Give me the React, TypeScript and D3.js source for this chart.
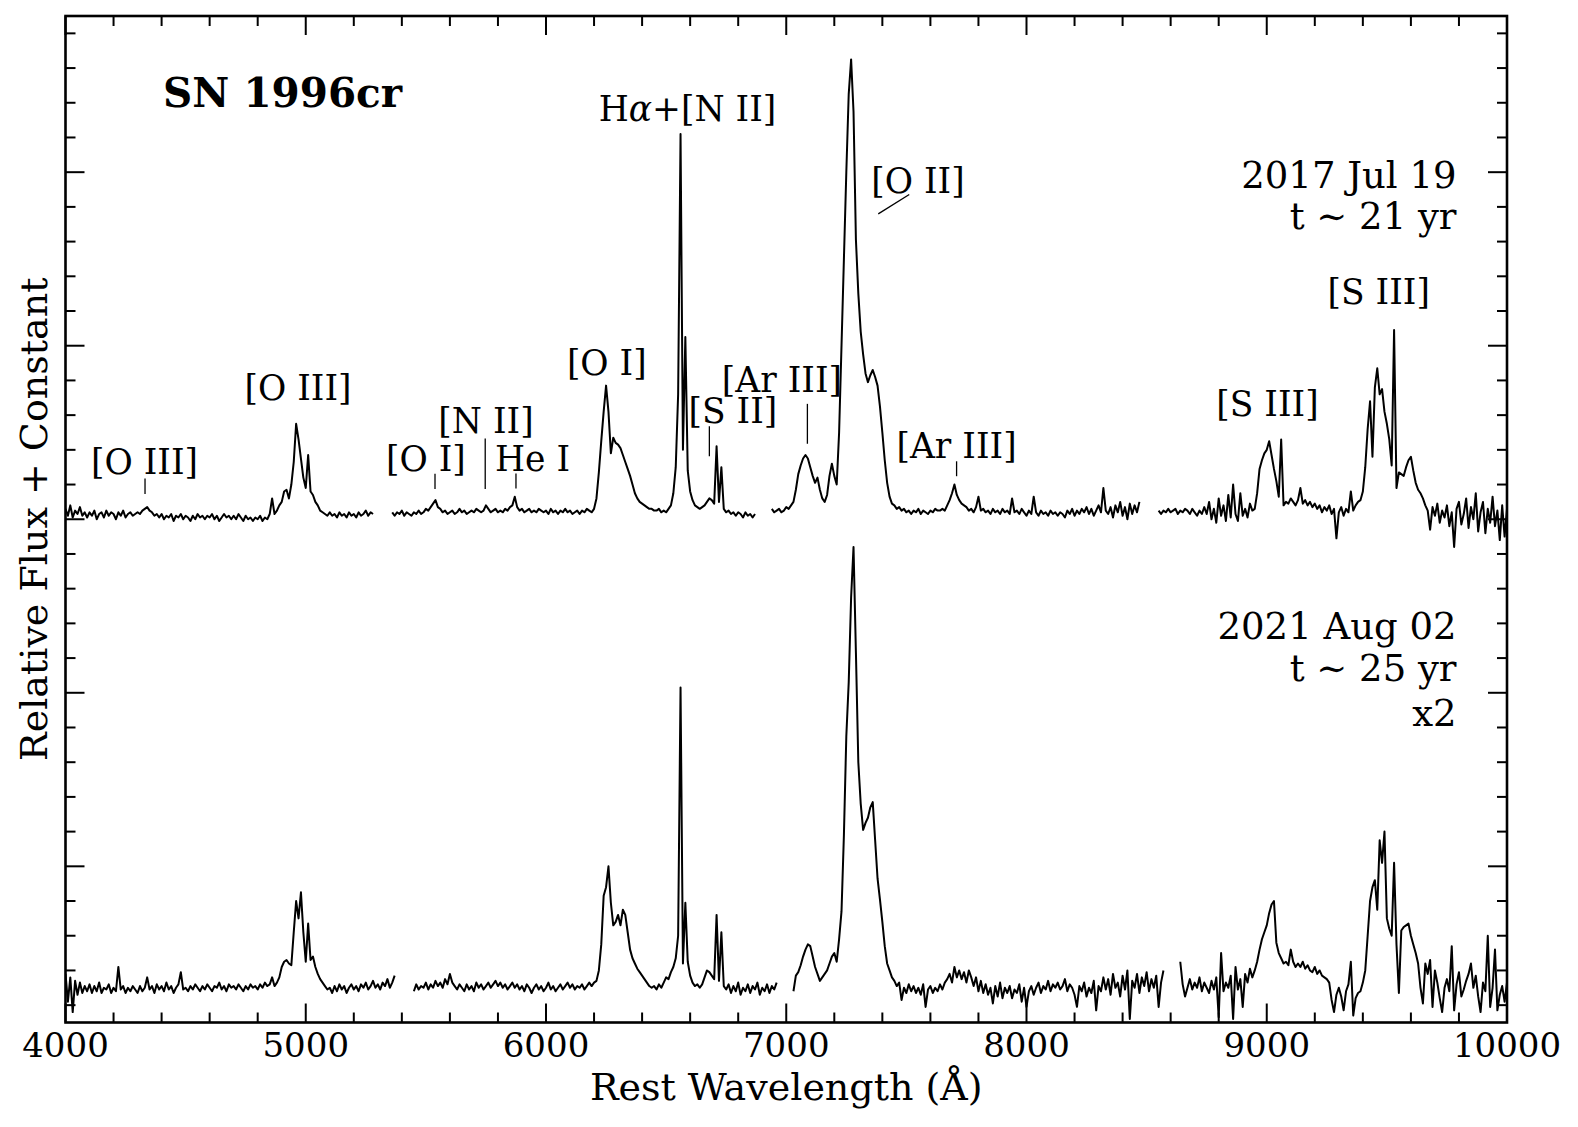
import React from "react";
import * as d3 from "d3";

const W = 1578;
const H = 1127;
const PLOT = { left: 65.5, right: 1507, top: 16, bottom: 1022.5 };
const X_DOMAIN: [number, number] = [4000, 10000];
const Y_DOMAIN: [number, number] = [0.1, 5.9];
const STEP = 10;

const xMajorTicks = [4000, 5000, 6000, 7000, 8000, 9000, 10000];
const yMajorTicks = [1, 2, 3, 4, 5];

// ---------- 2017 Jul 19 spectrum (flux + constant), 10 Å sampling ----------
const spec2017Starts = [4000, 5360, 6940, 8550];
const spec2017A = [
  3.06, 3.02, 3.08, 3.01, 3.05, 3.03, 3.07, 3.02, 3.04, 3.01,
  3.04, 3.02, 3.05, 3.00, 3.03, 3.04, 3.01, 3.05, 3.02, 3.04,
  3.03, 3.00, 3.04, 3.02, 3.05, 3.01, 3.03, 3.04, 3.02, 3.03,
  3.04, 3.03, 3.05, 3.06, 3.07, 3.05, 3.04, 3.02, 3.03, 3.01,
  3.03, 3.00, 3.02, 3.01, 3.03, 2.99, 3.02, 3.01, 3.03, 3.00,
  3.02, 3.01, 2.99, 3.02, 3.00, 3.03, 3.01, 3.02, 3.00, 3.02,
  3.01, 3.03, 3.00, 3.02, 2.99, 3.01, 3.03, 3.01, 3.02, 3.00,
  3.02, 3.00, 3.03, 3.01, 2.99, 3.02, 3.00, 3.01, 2.99, 3.01,
  3.00, 3.02, 2.99, 3.01, 3.00, 3.03, 3.12, 3.03, 3.05, 3.08,
  3.10, 3.16, 3.17, 3.12, 3.20, 3.33, 3.55, 3.46, 3.35, 3.24,
  3.18, 3.37, 3.16, 3.14, 3.10, 3.08, 3.05, 3.04, 3.03, 3.02,
  3.04, 3.02, 3.03, 3.01, 3.04, 3.02, 3.03, 3.01, 3.04, 3.02,
  3.03, 3.01, 3.04, 3.02, 3.03, 3.05, 3.02, 3.04, 3.03,
];
const spec2017B = [
  3.04, 3.02, 3.04, 3.03, 3.05, 3.02, 3.04, 3.03, 3.02, 3.04,
  3.03, 3.05, 3.03, 3.04, 3.06, 3.05, 3.07, 3.09, 3.11, 3.07,
  3.06, 3.04, 3.05, 3.03, 3.04, 3.05, 3.03, 3.04, 3.06, 3.04,
  3.05, 3.03, 3.04, 3.05, 3.04, 3.06, 3.05, 3.04, 3.05, 3.08,
  3.06, 3.04, 3.05, 3.06, 3.04, 3.05, 3.04, 3.06, 3.05, 3.07,
  3.08, 3.13, 3.07, 3.05, 3.06, 3.04, 3.05, 3.06, 3.04, 3.05,
  3.04, 3.06, 3.05, 3.04, 3.05, 3.03, 3.06, 3.04, 3.05, 3.03,
  3.05, 3.04, 3.06, 3.04, 3.05, 3.03, 3.04, 3.05, 3.03, 3.05,
  3.04, 3.06, 3.05, 3.04, 3.06, 3.12, 3.27, 3.45, 3.62, 3.77,
  3.62, 3.38, 3.47, 3.44, 3.43, 3.41, 3.37, 3.33, 3.29, 3.25,
  3.20, 3.15, 3.12, 3.10, 3.09, 3.08, 3.07, 3.06, 3.06, 3.05,
  3.05, 3.06, 3.04, 3.05, 3.04, 3.06, 3.08, 3.15, 3.30, 3.72,
  5.22, 3.40, 4.05, 3.28, 3.16, 3.11, 3.08, 3.07, 3.06, 3.07,
  3.08, 3.10, 3.12, 3.11, 3.09, 3.42, 3.10, 3.30, 3.06, 3.04,
  3.05, 3.03, 3.04, 3.02, 3.04, 3.03, 3.01, 3.04, 3.02, 3.03, 3.01, 3.03,
];
const spec2017C = [
  3.06, 3.04, 3.05, 3.06, 3.04, 3.05, 3.07, 3.06, 3.08, 3.10,
  3.17, 3.26, 3.31, 3.35, 3.37, 3.35, 3.30, 3.25, 3.21, 3.24,
  3.17, 3.12, 3.10, 3.14, 3.25, 3.32, 3.25, 3.20, 3.50, 4.00,
  4.50, 5.00, 5.45, 5.65, 5.35, 4.61, 4.30, 4.08, 3.95, 3.84,
  3.79, 3.83, 3.86, 3.82, 3.77, 3.65, 3.50, 3.34, 3.21, 3.13,
  3.09, 3.08, 3.06, 3.07, 3.05, 3.06, 3.04, 3.05, 3.03, 3.05,
  3.04, 3.06, 3.03, 3.05, 3.04, 3.03, 3.05, 3.04, 3.06, 3.05,
  3.05, 3.06, 3.05, 3.08, 3.11, 3.15, 3.20, 3.14, 3.11, 3.09,
  3.08, 3.07, 3.05, 3.06, 3.04, 3.07, 3.13, 3.05, 3.06, 3.04,
  3.05, 3.03, 3.06, 3.04, 3.05, 3.03, 3.06, 3.04, 3.05, 3.03,
  3.12, 3.04, 3.05, 3.03, 3.06, 3.04, 3.02, 3.05, 3.03, 3.13,
  3.04, 3.02, 3.05, 3.03, 3.04, 3.02, 3.05, 3.03, 3.04, 3.02,
  3.04, 3.03, 3.01, 3.05, 3.03, 3.06, 3.02, 3.05, 3.03, 3.06,
  3.04, 3.07, 3.03, 3.06, 3.02, 3.05, 3.08, 3.04, 3.18, 3.05,
  3.03, 3.07, 3.01, 3.08, 3.04, 3.10, 3.02, 3.07, 3.00, 3.09,
  3.03, 3.08, 3.04, 3.10,
];
const spec2017D = [
  3.05, 3.03, 3.05, 3.04, 3.06, 3.04, 3.05, 3.06, 3.03, 3.05,
  3.04, 3.06, 3.05, 3.03, 3.06, 3.04, 3.02, 3.05, 3.03, 3.07,
  3.03, 3.10, 3.00, 3.06, 2.98, 3.12, 3.02, 3.08, 2.99, 3.14,
  3.01, 3.20, 3.03, 2.99, 3.15, 3.02, 3.06, 3.01, 3.09, 3.05,
  3.06, 3.15, 3.29, 3.34, 3.38, 3.40, 3.45, 3.37, 3.29, 3.22,
  3.13, 3.46, 3.08, 3.10, 3.09, 3.12, 3.10, 3.08, 3.11, 3.18,
  3.09, 3.11, 3.08, 3.10, 3.07, 3.09, 3.06, 3.08, 3.04, 3.07,
  3.05, 3.08, 3.03, 3.06, 2.89, 3.04, 3.07, 3.02, 3.06, 3.04,
  3.16, 3.05, 3.08, 3.10, 3.11, 3.16, 3.30, 3.52, 3.68, 3.36,
  3.76, 3.87, 3.72, 3.75, 3.62, 3.55, 3.46, 3.31, 4.09, 3.18,
  3.27, 3.26, 3.25, 3.30, 3.34, 3.36, 3.28, 3.21, 3.17, 3.15,
  3.12, 3.08, 3.05, 2.94, 3.07, 3.02, 3.09, 2.98, 3.05, 3.01,
  3.08, 2.96, 3.04, 2.84, 3.06, 3.10, 2.97, 3.03, 3.12, 2.95,
  3.07, 3.00, 3.15, 2.93, 3.04, 3.10, 2.92, 3.06, 2.98, 3.13,
  2.96, 3.05, 2.88, 3.08, 2.90, 3.06,
];

// ---------- 2021 Aug 02 spectrum (x2), 10 Å sampling ----------
const spec2021Starts = [4000, 5450, 7030, 8640];
const spec2021A = [
  0.38, 0.22, 0.36, 0.16, 0.34, 0.26, 0.33, 0.27, 0.31, 0.28,
  0.32, 0.27, 0.31, 0.28, 0.33, 0.27, 0.30, 0.29, 0.32, 0.27,
  0.30, 0.28, 0.42, 0.29, 0.31, 0.27, 0.30, 0.28, 0.31, 0.29,
  0.27, 0.31, 0.28, 0.30, 0.36, 0.29, 0.31, 0.27, 0.32, 0.29,
  0.31, 0.28, 0.33, 0.29, 0.31, 0.27, 0.30, 0.32, 0.39, 0.29,
  0.30, 0.28, 0.31, 0.29, 0.32, 0.30, 0.28, 0.31, 0.29, 0.32,
  0.30, 0.28, 0.31, 0.30, 0.33, 0.29, 0.31, 0.28, 0.32, 0.30,
  0.31, 0.29, 0.32, 0.30, 0.28, 0.31, 0.29, 0.32, 0.30, 0.31,
  0.29, 0.32, 0.30, 0.33, 0.31, 0.32, 0.36, 0.31, 0.33, 0.36,
  0.42, 0.45, 0.46, 0.44, 0.43, 0.62, 0.80, 0.70, 0.85, 0.62,
  0.45, 0.67, 0.46, 0.48, 0.42, 0.38, 0.35, 0.33, 0.31, 0.29,
  0.30, 0.27, 0.31, 0.28, 0.32, 0.29, 0.31, 0.27, 0.30, 0.32,
  0.29, 0.31, 0.28, 0.32, 0.30, 0.33, 0.29, 0.31, 0.34, 0.30,
  0.32, 0.29, 0.33, 0.31, 0.35, 0.30, 0.33, 0.37,
];
const spec2021B = [
  0.28, 0.32, 0.29, 0.31, 0.30, 0.33, 0.29, 0.32, 0.30, 0.34,
  0.31, 0.33, 0.30, 0.35, 0.32, 0.38, 0.33, 0.31, 0.29, 0.32,
  0.30, 0.28, 0.32, 0.29, 0.31, 0.28, 0.33, 0.30, 0.32, 0.29,
  0.31, 0.33, 0.30, 0.32, 0.34, 0.31, 0.33, 0.30, 0.32, 0.29,
  0.31, 0.33, 0.30, 0.32, 0.29, 0.31, 0.28, 0.32, 0.30, 0.27,
  0.30, 0.32, 0.29, 0.31, 0.28, 0.30, 0.33, 0.29, 0.31, 0.28,
  0.30, 0.32, 0.29, 0.31, 0.33, 0.30, 0.32, 0.29, 0.31, 0.30,
  0.32, 0.29, 0.31, 0.33, 0.31, 0.33, 0.34, 0.40, 0.55, 0.83,
  0.88, 1.00, 0.79, 0.66, 0.68, 0.72, 0.66, 0.75, 0.72, 0.62,
  0.52, 0.47, 0.44, 0.41, 0.39, 0.37, 0.35, 0.33, 0.31, 0.30,
  0.31, 0.29, 0.32, 0.30, 0.33, 0.36, 0.35, 0.39, 0.42, 0.47,
  0.60, 2.03, 0.44, 0.79, 0.45, 0.37, 0.33, 0.31, 0.32, 0.30,
  0.32, 0.36, 0.40, 0.39, 0.37, 0.35, 0.72, 0.34, 0.62, 0.31,
  0.29, 0.32, 0.27, 0.31, 0.28, 0.33, 0.26, 0.30, 0.28, 0.32,
  0.27, 0.31, 0.29, 0.33, 0.26, 0.30, 0.28, 0.32, 0.27, 0.31,
  0.29, 0.33,
];
const spec2021C = [
  0.28, 0.37, 0.39, 0.43, 0.48, 0.52, 0.55, 0.54, 0.48, 0.42,
  0.38, 0.34, 0.36, 0.38, 0.40, 0.44, 0.48, 0.50, 0.45, 0.58,
  0.74, 1.18, 1.75, 2.06, 2.55, 2.84, 2.23, 1.60, 1.36, 1.21,
  1.25, 1.28, 1.34, 1.37, 1.15, 0.93, 0.81, 0.68, 0.54, 0.44,
  0.40, 0.36, 0.34, 0.31, 0.33, 0.23, 0.30, 0.27, 0.32, 0.28,
  0.31, 0.27, 0.30, 0.26, 0.32, 0.19, 0.29, 0.31, 0.27, 0.30,
  0.28, 0.32, 0.29, 0.33, 0.35, 0.38, 0.33, 0.42, 0.36, 0.40,
  0.35, 0.39, 0.33, 0.40, 0.36, 0.31, 0.36, 0.28, 0.34, 0.27,
  0.32, 0.26, 0.30, 0.21, 0.31, 0.25, 0.33, 0.24, 0.30, 0.27,
  0.31, 0.24, 0.29, 0.27, 0.32, 0.22, 0.30, 0.19, 0.28, 0.31,
  0.26, 0.30, 0.33, 0.27, 0.31, 0.29, 0.34, 0.28, 0.32, 0.30,
  0.33, 0.29, 0.31, 0.35, 0.28, 0.32, 0.30, 0.26, 0.19, 0.31,
  0.28, 0.33, 0.25, 0.30, 0.27, 0.34, 0.17, 0.31, 0.28, 0.36,
  0.29, 0.35, 0.26, 0.38, 0.30, 0.33, 0.25, 0.37, 0.29, 0.40,
  0.12, 0.34, 0.30, 0.38, 0.27, 0.36, 0.31, 0.39, 0.28, 0.35,
  0.30, 0.37, 0.19, 0.33, 0.40,
];
const spec2021D = [
  0.45, 0.32, 0.25, 0.30, 0.35, 0.29, 0.33, 0.30, 0.36, 0.28,
  0.33, 0.30, 0.27, 0.34, 0.29, 0.36, 0.13, 0.50, 0.28, 0.33,
  0.30, 0.37, 0.12, 0.42, 0.29, 0.35, 0.19, 0.38, 0.33, 0.41,
  0.36, 0.40, 0.45, 0.52, 0.58, 0.62, 0.66, 0.73, 0.78, 0.80,
  0.56, 0.50, 0.47, 0.44, 0.45, 0.43, 0.52, 0.45, 0.42, 0.44,
  0.42, 0.45, 0.41, 0.43, 0.40, 0.39, 0.42, 0.38, 0.40, 0.37,
  0.36, 0.35, 0.33, 0.23, 0.16, 0.26, 0.30, 0.25, 0.17, 0.28,
  0.32, 0.45, 0.14, 0.24, 0.27, 0.28, 0.33, 0.40, 0.60, 0.80,
  0.88, 0.92, 0.75, 1.15, 1.02, 1.20, 0.70, 0.64, 0.60, 1.02,
  0.55, 0.27, 0.63, 0.65, 0.66, 0.67, 0.60, 0.55, 0.50, 0.44,
  0.30, 0.21, 0.44, 0.38, 0.46, 0.19, 0.40, 0.33, 0.24, 0.16,
  0.30, 0.35, 0.28, 0.54, 0.17, 0.32, 0.39, 0.25, 0.29, 0.34,
  0.38, 0.44, 0.30, 0.37, 0.25, 0.16, 0.33, 0.28, 0.60, 0.19,
  0.30, 0.52, 0.17, 0.26, 0.31, 0.22, 0.33,
];

// ---------- line identifications (wavelength, flux) ----------
const lineLabels = [
  { text: "[O III]", wave: 4329, flux: 3.263 },
  { text: "[O III]", wave: 4968, flux: 3.69 },
  { text: "[O I]", wave: 5500, flux: 3.277 },
  { text: "[N II]", wave: 5750, flux: 3.498 },
  { text: "He I", wave: 5944, flux: 3.277 },
  { text: "[O I]", wave: 6253, flux: 3.834 },
  { text: "Hα+[N II]", wave: 6589, flux: 5.294 },
  { text: "[S II]", wave: 6778, flux: 3.556 },
  { text: "[Ar III]", wave: 6982, flux: 3.732 },
  { text: "[O II]", wave: 7548, flux: 4.881 },
  { text: "[Ar III]", wave: 7709, flux: 3.354 },
  { text: "[S III]", wave: 9003, flux: 3.594 },
  { text: "[S III]", wave: 9466, flux: 4.243 },
];
const lineMarks = [
  { wave0: 4331, flux0: 3.146, wave1: 4331, flux1: 3.235 },
  { wave0: 5538, flux0: 3.175, wave1: 5538, flux1: 3.262 },
  { wave0: 5747, flux0: 3.175, wave1: 5747, flux1: 3.465 },
  { wave0: 5875, flux0: 3.177, wave1: 5875, flux1: 3.263 },
  { wave0: 6680, flux0: 3.363, wave1: 6680, flux1: 3.536 },
  { wave0: 7088, flux0: 3.435, wave1: 7088, flux1: 3.665 },
  { wave0: 7383, flux0: 4.76, wave1: 7512, flux1: 4.871 },
  { wave0: 7709, flux0: 3.248, wave1: 7709, flux1: 3.334 },
];

const epochTop = ["2017 Jul 19", "t ∼ 21 yr"];
const epochTopFlux = [4.91, 4.67];
const epochBottom = ["2021 Aug 02", "t ∼ 25 yr", "x2"];
const epochBottomFlux = [2.311, 2.066, 1.811];
const epochWave = 9790;
const title = "SN 1996cr";
const titleWave = 4406;
const titleFlux = 5.377;

const FONT = "'DejaVu Serif', serif";

export default function App() {
  const x = d3.scaleLinear().domain(X_DOMAIN).range([PLOT.left, PLOT.right]);
  const y = d3.scaleLinear().domain(Y_DOMAIN).range([PLOT.bottom, PLOT.top]);
  const line = d3
    .line<[number, number]>()
    .x((d) => x(d[0]))
    .y((d) => y(d[1]));

  const toSegs = (starts: number[], arrs: number[][]) =>
    arrs.map((a, k) => a.map((v, i) => [starts[k] + i * STEP, v] as [number, number]));

  const segs = [
    ...toSegs(spec2017Starts, [spec2017A, spec2017B, spec2017C, spec2017D]),
    ...toSegs(spec2021Starts, [spec2021A, spec2021B, spec2021C, spec2021D]),
  ];

  const xMinor = d3.range(4000, 10001, 200).filter((v) => v % 1000 !== 0);
  const yMinor = d3
    .range(1, 30)
    .filter((i) => i % 5 !== 0)
    .map((i) => i * 0.2);

  const MAJ = 19;
  const MIN = 10;

  const renderLabel = (t: string) => {
    if (t.includes("α")) {
      const [a, b] = t.split("α");
      return (
        <>
          {a}
          <tspan fontStyle="italic">α</tspan>
          {b}
        </>
      );
    }
    return t;
  };

  return (
    <svg
      width={W}
      height={H}
      style={{ position: "absolute", left: 0, top: 0, background: "#fff" }}
      fontFamily={FONT}
    >
      <rect x={0} y={0} width={W} height={H} fill="#fff" />
      <defs>
        <clipPath id="plotclip">
          <rect
            x={PLOT.left}
            y={PLOT.top}
            width={PLOT.right - PLOT.left}
            height={PLOT.bottom - PLOT.top}
          />
        </clipPath>
      </defs>
      <g clipPath="url(#plotclip)">
        {segs.map((s, i) => (
          <path
            key={i}
            d={line(s) || ""}
            fill="none"
            stroke="#000"
            strokeWidth={2}
            strokeLinejoin="round"
          />
        ))}
      </g>

      {/* ticks */}
      <g stroke="#000" strokeWidth={2}>
        {xMajorTicks.map((t) => (
          <g key={"xm" + t}>
            <line x1={x(t)} x2={x(t)} y1={PLOT.bottom} y2={PLOT.bottom - MAJ} />
            <line x1={x(t)} x2={x(t)} y1={PLOT.top} y2={PLOT.top + MAJ} />
          </g>
        ))}
        {xMinor.map((t) => (
          <g key={"xn" + t}>
            <line x1={x(t)} x2={x(t)} y1={PLOT.bottom} y2={PLOT.bottom - MIN} />
            <line x1={x(t)} x2={x(t)} y1={PLOT.top} y2={PLOT.top + MIN} />
          </g>
        ))}
        {yMajorTicks.map((t) => (
          <g key={"ym" + t}>
            <line x1={PLOT.left} x2={PLOT.left + MAJ} y1={y(t)} y2={y(t)} />
            <line x1={PLOT.right} x2={PLOT.right - MAJ} y1={y(t)} y2={y(t)} />
          </g>
        ))}
        {yMinor.map((t) => (
          <g key={"yn" + t}>
            <line x1={PLOT.left} x2={PLOT.left + MIN} y1={y(t)} y2={y(t)} />
            <line x1={PLOT.right} x2={PLOT.right - MIN} y1={y(t)} y2={y(t)} />
          </g>
        ))}
      </g>
      <rect
        x={PLOT.left}
        y={PLOT.top}
        width={PLOT.right - PLOT.left}
        height={PLOT.bottom - PLOT.top}
        fill="none"
        stroke="#000"
        strokeWidth={2.6}
      />

      {/* tick labels */}
      {xMajorTicks.map((t) => (
        <text key={"xl" + t} x={x(t)} y={1057} fontSize={34} textAnchor="middle">
          {t}
        </text>
      ))}
      <text x={(PLOT.left + PLOT.right) / 2} y={1100} fontSize={38} textAnchor="middle">
        Rest Wavelength (Å)
      </text>
      <text
        transform={`translate(47, ${(PLOT.top + PLOT.bottom) / 2}) rotate(-90)`}
        fontSize={38}
        textAnchor="middle"
      >
        Relative Flux + Constant
      </text>

      {/* line ids */}
      {lineMarks.map((m, i) => (
        <line
          key={"lm" + i}
          x1={x(m.wave0)}
          y1={y(m.flux0)}
          x2={x(m.wave1)}
          y2={y(m.flux1)}
          stroke="#000"
          strokeWidth={1.3}
        />
      ))}
      {lineLabels.map((l, i) => (
        <text key={"ll" + i} x={x(l.wave)} y={y(l.flux)} fontSize={34.5} textAnchor="middle">
          {renderLabel(l.text)}
        </text>
      ))}

      <text x={x(titleWave)} y={y(titleFlux)} fontSize={40.5} fontWeight="bold">
        {title}
      </text>
      {epochTop.map((t, i) => (
        <text key={"et" + i} x={x(epochWave)} y={y(epochTopFlux[i])} fontSize={37} textAnchor="end">
          {t}
        </text>
      ))}
      {epochBottom.map((t, i) => (
        <text key={"eb" + i} x={x(epochWave)} y={y(epochBottomFlux[i])} fontSize={37} textAnchor="end">
          {t}
        </text>
      ))}
    </svg>
  );
}
